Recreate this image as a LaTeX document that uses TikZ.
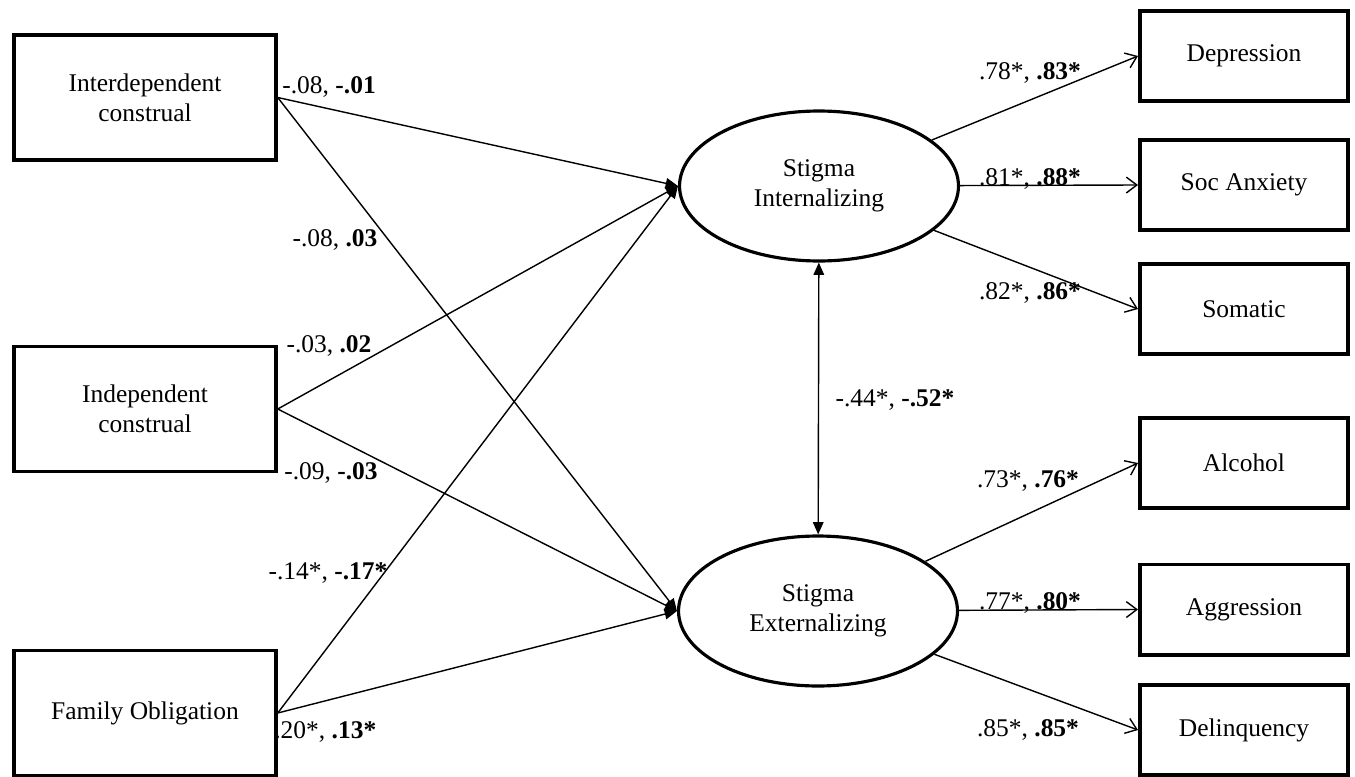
\documentclass[tikz,border=0pt]{standalone}
\usepackage{fontspec}
\setmainfont{Liberation Serif}
\usetikzlibrary{shapes.geometric,arrows.meta,positioning}

\begin{document}
\begin{tikzpicture}[x=0.02cm,y=-0.02cm]
  \tikzset{
    txt/.style={font=\fontsize{14.5}{17}\selectfont},
    pred/.style={txt, draw=black, line width=2pt, minimum width=5.24cm, minimum height=2.51cm, align=center, inner sep=0pt},
    ind/.style={txt, draw=black, line width=2pt, minimum width=4.17cm, minimum height=1.81cm, align=center, inner sep=0pt},
    lat/.style={txt, ellipse, draw=black, line width=1.8pt, minimum width=5.58cm, minimum height=3.0cm, align=center, inner sep=0pt},
    reg/.style={-{Triangle[length=7pt,width=6pt]}, line width=0.8pt},
    load/.style={-{Straight Barb[length=6pt,width=9pt]}, line width=0.8pt},
    cov/.style={{Triangle[length=7pt,width=6pt]}-{Triangle[length=7pt,width=6pt]}, line width=0.8pt},
    coef/.style={txt, inner sep=0pt}
  }
  \useasboundingbox (0,0) rectangle (1355,777);

  % Predictors
  \node[pred] (inter) at (145,97.5) {Interdependent\\construal};
  \node[pred] (indep) at (145,409) {Independent\\construal};
  \node[pred] (famob) at (145,713) {Family Obligation};

  % Latent factors
  \node[lat] (sint) at (819,186) {Stigma\\Internalizing};
  \node[lat] (sext) at (818,611) {Stigma\\Externalizing};

  % Indicators
  \node[ind] (dep) at (1244,56) {Depression};
  \node[ind] (soc) at (1244,185) {Soc Anxiety};
  \node[ind] (som) at (1244,309) {Somatic};
  \node[ind] (alc) at (1244,463) {Alcohol};
  \node[ind] (agg) at (1244,609.5) {Aggression};
  \node[ind] (del) at (1244,730) {Delinquency};

  % Structural paths
  \draw[reg] (inter.east) -- (sint.west);
  \draw[reg] (inter.east) -- (sext.west);
  \draw[reg] (indep.east) -- (sint.west);
  \draw[reg] (indep.east) -- (sext.west);
  \draw[reg] (famob.east) -- (sint.west);
  \draw[reg] (famob.east) -- (sext.west);
  \draw[cov] (sint) -- (sext);

  % Loadings
  \draw[load] (sint) -- (dep.west);
  \draw[load] (sint) -- (soc.west);
  \draw[load] (sint) -- (som.west);
  \draw[load] (sext) -- (alc.west);
  \draw[load] (sext) -- (agg.west);
  \draw[load] (sext) -- (del.west);

  % Coefficients
  \node[coef, anchor=west] (c1) at (282,87) {-.08, \textbf{-.01}};
  \node[coef] (c2) at (335,240) {-.08, \textbf{.03}};
  \node[coef] (c3) at (329,346) {-.03, \textbf{.02}};
  \node[coef] (c4) at (331,473) {-.09, \textbf{-.03}};
  \node[coef] (c5) at (328,573) {-.14*, \textbf{-.17*}};
  \node[coef, anchor=west] (c6) at (274,732) {.20*, \textbf{.13*}};
  \node[coef] (c7) at (895,400) {-.44*, \textbf{-.52*}};
  \node[coef] (l1) at (1030,73) {.78*, \textbf{.83*}};
  \node[coef, anchor=base] (l2) at (1030,185) {.81*, \textbf{.88*}};
  \node[coef] (l3) at (1030,293) {.82*, \textbf{.86*}};
  \node[coef] (l4) at (1028,481) {.73*, \textbf{.76*}};
  \node[coef, anchor=base] (l5) at (1030,609) {.77*, \textbf{.80*}};
  \node[coef] (l6) at (1028,730) {.85*, \textbf{.85*}};
\end{tikzpicture}
\end{document}
